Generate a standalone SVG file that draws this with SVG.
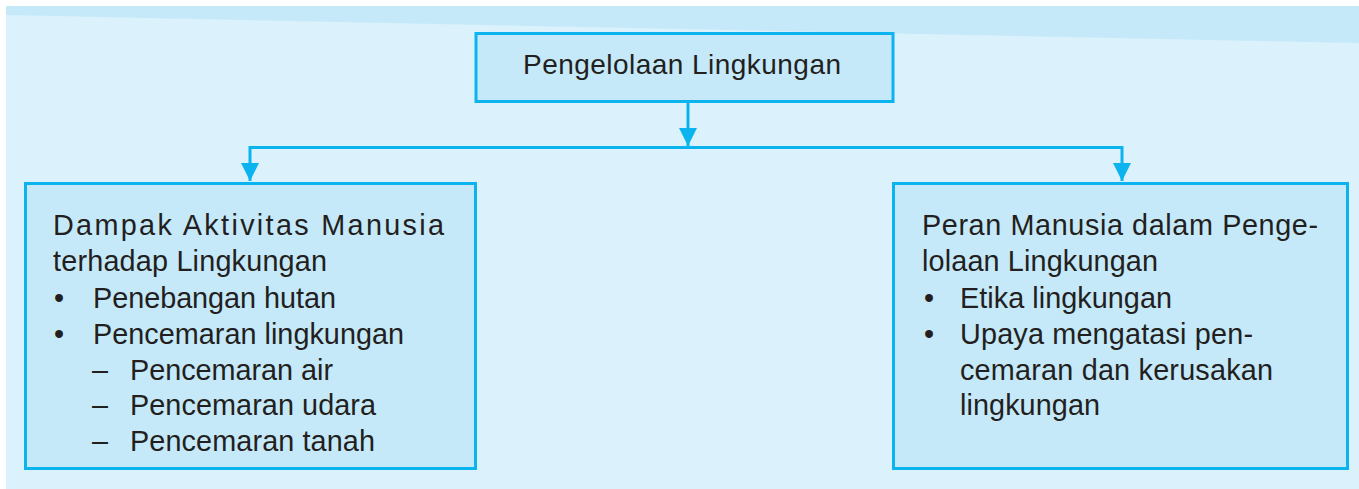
<svg xmlns="http://www.w3.org/2000/svg" width="1359" height="489" viewBox="0 0 1359 489">
  <style>
    .box { fill: #c5e9f9; stroke: #0cb4ef; stroke-width: 3; }
    .conn { fill: none; stroke: #0cb4ef; stroke-width: 3; }
    text { font-family: "Liberation Sans", Arial, sans-serif; font-size: 28.8px; fill: #231f20; }
    .title { font-size: 28px; }
  </style>
  <defs>
    <marker id="arrow" markerUnits="userSpaceOnUse" markerWidth="18" markerHeight="18" refX="18" refY="9" orient="auto" viewBox="0 0 18 18">
      <path d="M0,0 L18,9 L0,18 z" fill="#0cb4ef"/>
    </marker>
  </defs>
  <rect x="6" y="6" width="1353" height="483" fill="#dbf1fc"/>
  <polygon points="6,6 1359,6 1359,43 6,15" fill="#c5e9f9"/>

  <g id="connectors">
    <path class="conn" d="M688,102 V146" marker-end="url(#arrow)"/>
    <path class="conn" d="M688,147.5 H250 V181" marker-end="url(#arrow)"/>
    <path class="conn" d="M688,147.5 H1122 V181" marker-end="url(#arrow)"/>
  </g>

  <g id="node-root">
    <rect class="box" x="476" y="33.5" width="417" height="68"/>
    <text class="title" x="523" y="74" textLength="318" lengthAdjust="spacing">Pengelolaan Lingkungan</text>
  </g>

  <g id="node-dampak">
    <rect class="box" x="25.5" y="183.5" width="450" height="285"/>
    <text x="53" y="235" textLength="391" lengthAdjust="spacing">Dampak Aktivitas Manusia</text>
    <text x="53" y="271" textLength="274" lengthAdjust="spacing">terhadap Lingkungan</text>
    <text x="54" y="308">•</text>
    <text x="93" y="308" textLength="243" lengthAdjust="spacing">Penebangan hutan</text>
    <text x="54" y="344">•</text>
    <text x="93" y="344" textLength="311" lengthAdjust="spacing">Pencemaran lingkungan</text>
    <text x="92" y="380">–</text>
    <text x="130" y="380" textLength="203" lengthAdjust="spacing">Pencemaran air</text>
    <text x="92" y="415">–</text>
    <text x="130" y="415" textLength="246" lengthAdjust="spacing">Pencemaran udara</text>
    <text x="92" y="451">–</text>
    <text x="130" y="451" textLength="245" lengthAdjust="spacing">Pencemaran tanah</text>
  </g>

  <g id="node-peran">
    <rect class="box" x="893.5" y="183.5" width="454" height="285"/>
    <text x="922" y="235" textLength="396" lengthAdjust="spacing">Peran Manusia dalam Penge-</text>
    <text x="922" y="271" textLength="236" lengthAdjust="spacing">lolaan Lingkungan</text>
    <text x="924" y="308">•</text>
    <text x="960" y="308" textLength="212" lengthAdjust="spacing">Etika lingkungan</text>
    <text x="924" y="344">•</text>
    <text x="960" y="344" textLength="293" lengthAdjust="spacing">Upaya mengatasi pen-</text>
    <text x="960" y="380" textLength="313" lengthAdjust="spacing">cemaran dan kerusakan</text>
    <text x="960" y="415" textLength="140" lengthAdjust="spacing">lingkungan</text>
  </g>
</svg>
